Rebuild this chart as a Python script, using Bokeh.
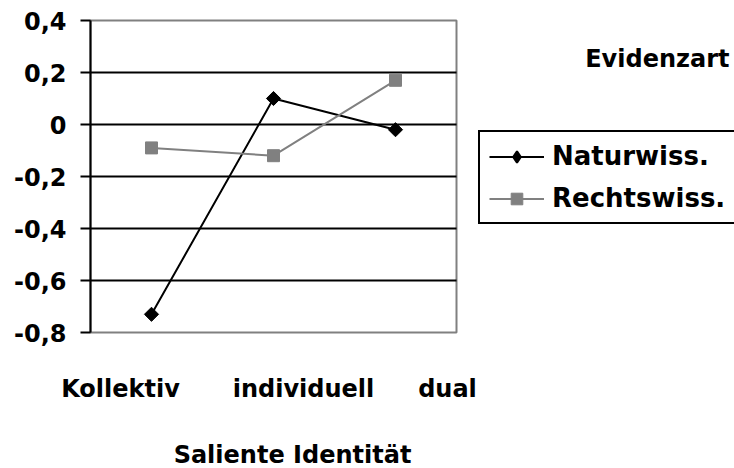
import numpy as np
from bokeh.plotting import figure
from bokeh.models import Range1d, FixedTicker, Legend, LegendItem, Label, ColumnDataSource
from bokeh.core.properties import value
from bokeh.embed import file_html
from bokeh.resources import INLINE

# ---- data ----
categories = ["Kollektiv", "individuell", "dual"]
naturwiss = [-0.73, 0.10, -0.02]
rechtswiss = [-0.09, -0.12, 0.17]
series_names = ["Naturwiss.", "Rechtswiss."]
y_ticks = [-0.8, -0.6, -0.4, -0.2, 0.0, 0.2, 0.4]
y_tick_labels = ["-0,8", "-0,6", "-0,4", "-0,2", "0", "0,2", "0,4"]
x_title = "Saliente Identität"
legend_title = "Evidenzart"

# ---- layout / styles (pixels) ----
W, H = 734, 468
LEFT = 90            # left edge of plot area
PLOT_W = 366         # plot area width
TOP = 20             # top edge of plot area
PLOT_H = 312         # plot area height
FONT = "DejaVu Sans"
FS = "24px"
GREY = "#808080"
cat_label_shift = [-31, 30, 52]   # horizontal pixel offsets of category labels

n = len(categories)
xs = [i + 0.5 for i in range(n)]
y0, y1 = y_ticks[0], y_ticks[-1]
upp = (y1 - y0) / PLOT_H
upx = n / PLOT_W

p = figure(width=W, height=H, output_backend="svg", toolbar_location=None,
           x_range=Range1d(-LEFT * upx, (W - LEFT) * upx),
           y_range=Range1d(y0 - (H - TOP - PLOT_H) * upp, y1 + TOP * upp),
           x_axis_location=None,
           min_border_left=0, min_border_right=0,
           min_border_top=0, min_border_bottom=0)
p.background_fill_color = "white"
p.border_fill_color = "white"
p.outline_line_color = None
p.xgrid.visible = False
p.ygrid.visible = False

ax = p.yaxis[0]
ax.fixed_location = 0
ax.bounds = (y0, y1)
ax.ticker = FixedTicker(ticks=y_ticks)
ax.major_label_overrides = {t: lab for t, lab in zip(y_ticks, y_tick_labels)}
ax.axis_line_color = "black"
ax.axis_line_width = 2
ax.major_tick_line_color = "black"
ax.major_tick_line_width = 2
ax.major_tick_out = 10
ax.major_tick_in = 0
ax.minor_tick_line_color = None
ax.major_label_standoff = 14
ax.major_label_text_font = FONT
ax.major_label_text_font_style = "bold"
ax.major_label_text_font_size = FS
ax.major_label_text_color = "black"

# plot-area border and horizontal gridlines
p.quad(left=0, right=n, bottom=y0, top=y1, fill_color=None,
       line_color=GREY, line_width=2)
inner = y_ticks[1:-1]
p.segment(x0=[0] * len(inner), x1=[n] * len(inner), y0=inner, y1=inner,
          line_color="black", line_width=2)

# series
l1 = p.line(xs, naturwiss, line_color="black", line_width=2)
m1 = p.scatter(xs, naturwiss, marker="square", angle=np.pi / 4, size=10,
               fill_color="black", line_color="black")
l2 = p.line(xs, rechtswiss, line_color=GREY, line_width=2)
m2 = p.scatter(xs, rechtswiss, marker="square", size=12,
               fill_color=GREY, line_color=GREY)
# legend-only diamond glyph (the legend ignores marker angle)
m1_leg = p.scatter(xs, naturwiss, marker="diamond", size=16,
                   fill_color="black", line_color="black", line_width=2,
                   visible=False)

legend = Legend(items=[LegendItem(label=series_names[0], renderers=[l1, m1_leg]),
                       LegendItem(label=series_names[1], renderers=[l2, m2])],
                location=(478, H - 224), orientation="vertical")
legend.border_line_color = "black"
legend.border_line_alpha = 1
legend.border_line_width = 2
legend.background_fill_color = "white"
legend.background_fill_alpha = 1
legend.padding = 9
legend.spacing = 12
legend.margin = 0
legend.glyph_width = 55
legend.glyph_height = 29
legend.label_height = 29
legend.label_standoff = 8
legend.label_text_font = FONT
legend.label_text_font_style = "bold"
legend.label_text_font_size = "26px"
legend.label_text_color = "black"
p.add_layout(legend)

# category labels and axis title
cat_src = ColumnDataSource(dict(x=xs, y=[y0] * n, text=categories,
                                dx=cat_label_shift))
p.text(x="x", y="y", text="text", x_offset="dx", y_offset=56, source=cat_src,
       text_align="center", text_baseline="alphabetic", text_font=value(FONT),
       text_font_style="bold", text_font_size=value(FS), text_color="black")
p.text(x=[n / 2], y=[y0], text=[x_title], x_offset=19, y_offset=122,
       text_align="center", text_baseline="alphabetic", text_font=value(FONT),
       text_font_style="bold", text_font_size=value(FS), text_color="black")

p.add_layout(Label(x=729, y=H - 58, x_units="screen", y_units="screen",
                   text=legend_title, text_align="right",
                   text_baseline="alphabetic", text_font=FONT,
                   text_font_style="bold", text_font_size=FS, text_color="black"))

open("out.html", "w").write(file_html(p, INLINE))
